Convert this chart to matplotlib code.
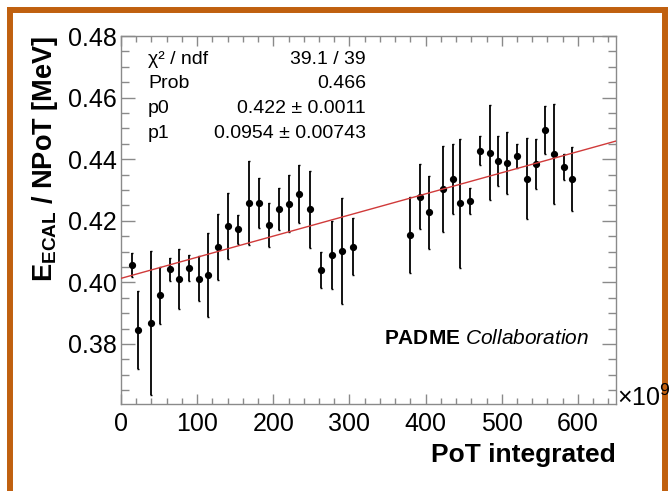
import numpy as np
import matplotlib
matplotlib.use("Agg")
import matplotlib.pyplot as plt
from matplotlib.lines import Line2D

plt.rcParams['font.family'] = ['Liberation Sans', 'DejaVu Sans']
plt.rcParams['mathtext.fontset'] = 'custom'
plt.rcParams['mathtext.rm'] = 'Liberation Sans'
plt.rcParams['mathtext.bf'] = 'Liberation Sans:bold'
plt.rcParams['mathtext.it'] = 'Liberation Sans:italic'

# PoT integrated (x 10^9) for each run bin
pot = [14.0, 22.5, 38.8, 51.7, 64.1, 76.5, 88.8, 101.8, 114.7, 127.6, 140.6,
       154.0, 167.6, 181.0, 194.6, 207.5, 220.4, 233.9, 248.5, 263.0, 276.6,
       290.0, 304.8,
       379.6, 392.5, 404.9, 422.9, 436.4, 445.3, 458.8, 471.2, 484.1, 495.4,
       506.6, 519.6, 533.0, 545.4, 556.7, 569.0, 581.4, 592.1]

# E_ECAL / NPoT [MeV]
energy = [0.4057, 0.3845, 0.3869, 0.3958, 0.4042, 0.4010, 0.4048, 0.4012,
          0.4024, 0.4114, 0.4184, 0.4172, 0.4257, 0.4257, 0.4186, 0.4238,
          0.4255, 0.4287, 0.4237, 0.4040, 0.4088, 0.4103, 0.4116,
          0.4154, 0.4278, 0.4228, 0.4303, 0.4336, 0.4257, 0.4264, 0.4428,
          0.4421, 0.4394, 0.4387, 0.4410, 0.4337, 0.4384, 0.4495, 0.4416,
          0.4376, 0.4336]

energy_err = [0.0038, 0.0126, 0.0234, 0.0093, 0.0038, 0.0098, 0.0042, 0.0074,
              0.0135, 0.0107, 0.0107, 0.0048, 0.0137, 0.0081, 0.0071, 0.0069,
              0.0093, 0.0094, 0.0126, 0.0057, 0.0110, 0.0172, 0.0093,
              0.0123, 0.0105, 0.0119, 0.0140, 0.0114, 0.0209, 0.0041, 0.0048,
              0.0154, 0.0082, 0.0100, 0.0040, 0.0131, 0.0081, 0.0078, 0.0162,
              0.0042, 0.0103]

# linear fit as drawn (value at x=0 and slope per 10^9 PoT)
fit_intercept = 0.4013
fit_slope = 6.86e-5

stats_names = ['\u03c7\u00b2 / ndf', 'Prob', 'p0', 'p1']
stats_values = ['39.1 / 39', '0.466', '0.422 \u00b1 0.0011', '0.0954 \u00b1 0.00743']

fig = plt.figure(figsize=(6.72, 4.91), dpi=100)
ax = fig.add_axes([121 / 672, 1 - 404 / 491, 495 / 672, 368 / 491])

ax.errorbar(pot, energy, yerr=energy_err, fmt='o', color='black',
            markersize=4.2, elinewidth=1.3, capsize=1.0, capthick=1.0, zorder=3)

xfit = np.array([0, 650])
ax.plot(xfit, fit_intercept + fit_slope * xfit, color='#d03a3a', lw=1.0, zorder=4)

ax.set_xlim(0, 650)
ax.set_ylim(0.3605, 0.48)
ax.set_xticks(np.arange(0, 601, 100))
ax.set_xticks(np.arange(0, 650, 20), minor=True)
ax.set_yticks(np.arange(0.38, 0.481, 0.02))
ax.set_yticks(np.arange(0.365, 0.48, 0.005), minor=True)
ax.set_yticklabels(['%.2f' % v for v in np.arange(0.38, 0.481, 0.02)])

for s in ax.spines.values():
    s.set_color('#8a8a8a')
    s.set_linewidth(1.0)
ax.tick_params(axis='both', which='both', direction='in', colors='#8a8a8a',
               top=True, right=True, width=1.0, labelcolor='black', labelsize=18)
ax.tick_params(axis='y', which='major', length=10, pad=3)
ax.tick_params(axis='y', which='minor', length=5.5)
ax.tick_params(axis='x', which='major', length=7.5, pad=6)
ax.tick_params(axis='x', which='minor', length=4)

ax.set_xlabel('PoT integrated', loc='right', fontsize=19, fontweight='bold', labelpad=5)
ax.set_ylabel(r'$\mathbf{E_{ECAL}}$ / NPoT [MeV]', loc='top', fontsize=19.5,
              fontweight='bold', labelpad=6)

ys = [0.935, 0.870, 0.804, 0.736]
for name, val, yy in zip(stats_names, stats_values, ys):
    ax.text(0.0545, yy, name, transform=ax.transAxes, fontsize=14, va='center', ha='left')
    ax.text(0.495, yy, val, transform=ax.transAxes, fontsize=14, va='center', ha='right')

ax.text(0.945, 0.179, r'$\mathbf{PADME}$ $\mathit{Collaboration}$', transform=ax.transAxes,
        fontsize=15, va='center', ha='right')

fig.text(617 / 672, 1 - 398 / 491, '\u00d710$^9$', fontsize=18, va='center', ha='left')

# orange frame from the screenshot
border = '#c0600f'
fig.add_artist(Line2D([0.0156, 0.0156], [0, 0.98], color=border, lw=4.3,
                      transform=fig.transFigure, solid_capstyle='projecting'))
fig.add_artist(Line2D([0.0156, 0.99], [0.98, 0.98], color=border, lw=4.3,
                      transform=fig.transFigure, solid_capstyle='projecting'))
fig.add_artist(Line2D([0.99, 0.99], [0, 0.98], color=border, lw=4.3,
                      transform=fig.transFigure, solid_capstyle='projecting'))

fig.savefig('out.png', dpi=100)
